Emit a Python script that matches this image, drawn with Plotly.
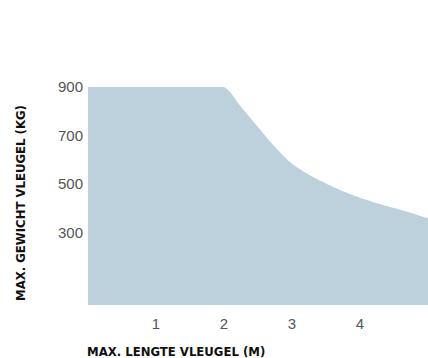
import plotly.graph_objects as go

# max wing length (m) vs max wing weight (kg)
LENGTH_M = [0, 0.5, 1, 1.5, 2, 2.25, 2.5, 2.75, 3, 3.25, 3.5, 3.75, 4, 4.25, 4.5, 4.75, 5]
WEIGHT_KG = [900, 900, 900, 900, 900, 818, 735, 652, 583, 538, 502, 470, 443, 420, 400, 380, 358]

X_TICKS = [1, 2, 3, 4, 5]
Y_TICKS = [300, 500, 700, 900]

FILL_COLOR = '#bdd1dc'
TICK_FONT = dict(family='Liberation Sans, Arial, sans-serif', size=15, color='#555555')
TITLE_FONT = dict(family='DejaVu Sans Condensed, Liberation Sans Narrow, sans-serif', size=13, color='#111111')


def main():
    fig = go.Figure()
    fig.add_trace(go.Scatter(x=LENGTH_M, y=WEIGHT_KG,
                             mode='lines',
                             line=dict(width=0, color=FILL_COLOR, shape='spline', smoothing=0.8),
                             fill='tozeroy',
                             fillcolor=FILL_COLOR,
                             hoverinfo='skip'))

    fig.update_xaxes(range=[0, 5], tickvals=X_TICKS, showgrid=False, zeroline=False,
                     showline=False, ticks='', tickfont=TICK_FONT, ticklabelstandoff=8)
    fig.update_yaxes(range=[0, 900], tickvals=Y_TICKS, showgrid=False, zeroline=False,
                     showline=False, ticks='', tickfont=TICK_FONT, ticklabelstandoff=4)

    fig.add_annotation(text='<b>MAX. GEWICHT VLEUGEL (KG)</b>', textangle=-90,
                       xref='paper', yref='paper', x=-0.197, y=0.468,
                       xanchor='center', yanchor='middle', showarrow=False, font=TITLE_FONT)
    fig.add_annotation(text='<b>MAX. LENGTE VLEUGEL (M)</b>',
                       xref='paper', yref='paper', x=-0.01, y=-0.215,
                       xanchor='left', yanchor='middle', showarrow=False, font=TITLE_FONT)

    fig.update_layout(width=428, height=358,
                      margin=dict(l=88, r=0, t=87, b=53),
                      plot_bgcolor='white', paper_bgcolor='white',
                      showlegend=False)
    # drop the default body margin so the figure fills the window exactly
    fig.write_html('out.html', config={'displayModeBar': False},
                   post_script="document.body.style.margin='0';")


if __name__ == '__main__':
    main()
